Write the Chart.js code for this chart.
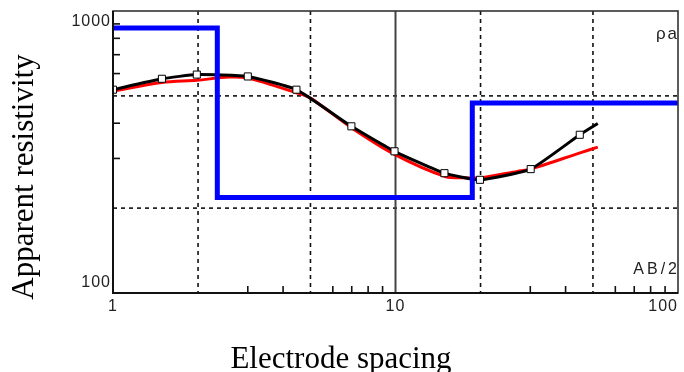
<!DOCTYPE html>
<html>
<head>
<meta charset="utf-8">
<script src="https://cdn.jsdelivr.net/npm/chart.js@4/dist/chart.umd.min.js"></script>
<style>
html, body { margin: 0; padding: 0; background: #fff; }
#wrap { width: 684px; height: 372px; }
</style>
</head>
<body>
<div id="wrap"><canvas id="sounding" width="684" height="372"></canvas></div>
<script>
// field readings: AB/2 and apparent resistivity
var obsSpacing = [1, 1.49, 1.98, 3.0, 4.46, 6.98, 9.92, 14.9, 19.9, 30.1, 44.9];
var obsRho = [526, 575, 595, 586, 526, 390, 318, 266, 252, 275, 364];
// the drawn field curve runs a little past the last reading
var curveEndSpacing = 52;
var curveEndRho = 399;

// computed response of the layer model
var fitSpacing = [1, 1.49, 1.98, 2.57, 3.0, 4.46, 5, 7, 10, 15, 18, 20, 27, 30, 45, 52];
var fitRho = [520, 558, 568, 583, 578, 513, 491, 385, 309, 259, 256, 256, 270, 275, 314, 329];

// layer model: resistivity per layer, depth of each boundary
var layerRho = [870, 218, 472];
var layerDepth = [2.34, 18.7];

// axis furniture
var xLabelValues = [1, 10, 100];
var yLabelValues = [100, 1000];
var xDashed = [2, 5, 20, 50];
var xSolid = [10];
var yDashed = [200, 500];
var xMinor = [3, 4, 6, 7, 8, 9, 30, 40, 60, 70, 80, 90];
var yMinor = [300, 400, 600, 700, 800, 900];

function toPoints(xs, ys) {
    var pts = [];
    for (var i = 0; i < xs.length; i++) pts.push({x: xs[i], y: ys[i]});
    return pts;
}

var fieldPts = toPoints(obsSpacing, obsRho);
fieldPts.push({x: curveEndSpacing, y: curveEndRho});

// step line of the model, from the left edge out to 100
var modelPts = [];
var xStart = 1, xEnd = 100;
for (var i = 0; i < layerRho.length; i++) {
    var a = i === 0 ? xStart : layerDepth[i - 1];
    var b = i < layerDepth.length ? layerDepth[i] : xEnd;
    modelPts.push({x: a, y: layerRho[i]});
    modelPts.push({x: b, y: layerRho[i]});
}

var frame = {
    id: 'frame',
    beforeDatasetsDraw: function (chart) {
        var ctx = chart.ctx, ar = chart.chartArea;
        var sx = chart.scales.x, sy = chart.scales.y;
        ctx.save();
        ctx.strokeStyle = '#111';
        ctx.lineWidth = 1.6;
        ctx.setLineDash([4, 4]);
        xDashed.forEach(function (v) {
            var p = sx.getPixelForValue(v);
            ctx.beginPath(); ctx.moveTo(p, ar.top); ctx.lineTo(p, ar.bottom); ctx.stroke();
        });
        yDashed.forEach(function (v) {
            var p = sy.getPixelForValue(v);
            ctx.beginPath(); ctx.moveTo(ar.left, p); ctx.lineTo(ar.right, p); ctx.stroke();
        });
        ctx.setLineDash([]);
        ctx.strokeStyle = '#444';
        ctx.lineWidth = 2;
        xSolid.forEach(function (v) {
            var p = sx.getPixelForValue(v);
            ctx.beginPath(); ctx.moveTo(p, ar.top); ctx.lineTo(p, ar.bottom); ctx.stroke();
        });
        ctx.strokeStyle = '#111';
        ctx.lineWidth = 1.6;
        xMinor.forEach(function (v) {
            var p = sx.getPixelForValue(v);
            ctx.beginPath(); ctx.moveTo(p, ar.bottom); ctx.lineTo(p, ar.bottom - 7); ctx.stroke();
        });
        yMinor.forEach(function (v) {
            var p = sy.getPixelForValue(v);
            ctx.beginPath(); ctx.moveTo(ar.left, p); ctx.lineTo(ar.left + 7, p); ctx.stroke();
        });
        ctx.restore();
    },
    afterDatasetsDraw: function (chart) {
        var ctx = chart.ctx, ar = chart.chartArea;
        var sx = chart.scales.x, sy = chart.scales.y;
        ctx.save();
        ctx.strokeStyle = '#333';
        ctx.lineWidth = 1.6;
        ctx.strokeRect(ar.left, ar.top, ar.right - ar.left, ar.bottom - ar.top);
        ctx.strokeStyle = '#111';
        ctx.lineWidth = 2;
        ctx.beginPath();
        ctx.moveTo(ar.left, ar.top); ctx.lineTo(ar.left, ar.bottom); ctx.lineTo(ar.right, ar.bottom);
        ctx.stroke();

        ctx.fillStyle = '#222';
        ctx.font = '16px "Liberation Sans", Arial, sans-serif';
        ctx.letterSpacing = '1px';
        ctx.textBaseline = 'middle';
        ctx.textAlign = 'right';
        yLabelValues.forEach(function (v) {
            var p = Math.max(sy.getPixelForValue(v) - 10, ar.top + 11);
            ctx.fillText(String(v), ar.left - 2, p);
        });
        xLabelValues.forEach(function (v) {
            var s = String(v);
            var w = ctx.measureText(s).width;
            var p = Math.min(sx.getPixelForValue(v) + w / 2, ar.right);
            ctx.fillText(s, p, ar.bottom + 14);
        });
        ctx.font = '17px "Liberation Sans", Arial, sans-serif';
        ctx.letterSpacing = '2px';
        ctx.fillText('\u03c1a', ar.right + 1, ar.top + 23);
        ctx.font = '16px "Liberation Sans", Arial, sans-serif';
        ctx.letterSpacing = '3px';
        ctx.fillText('AB/2', ar.right + 2, ar.bottom - 23);
        ctx.letterSpacing = '0px';

        ctx.fillStyle = '#000';
        ctx.font = '31px "Liberation Serif", "Times New Roman", serif';
        ctx.textAlign = 'center';
        ctx.textBaseline = 'alphabetic';
        ctx.fillText('Electrode spacing', 341, 368);
        ctx.translate(33, 177);
        ctx.rotate(-Math.PI / 2);
        ctx.fillText('Apparent resistivity', 0, 0);
        ctx.restore();
    }
};

new Chart(document.getElementById('sounding'), {
    type: 'scatter',
    data: {
        datasets: [{
            label: 'model',
            data: modelPts,
            showLine: true,
            borderColor: '#0000ff',
            borderWidth: 5,
            pointRadius: 0,
            tension: 0
        }, {
            label: 'field',
            data: fieldPts,
            showLine: true,
            borderColor: '#000',
            borderWidth: 3,
            tension: 0.15,
            pointStyle: 'rect',
            pointRadius: function (c) { return c.dataIndex < obsSpacing.length ? 5 : 0; },
            pointBackgroundColor: '#fff',
            pointBorderColor: '#000',
            pointBorderWidth: 1
        }, {
            label: 'fit',
            data: toPoints(fitSpacing, fitRho),
            showLine: true,
            borderColor: '#ff0000',
            borderWidth: 3,
            tension: 0.3,
            pointRadius: 0
        }]
    },
    options: {
        responsive: false,
        animation: false,
        devicePixelRatio: 1,
        layout: {padding: {left: 113, top: 11, right: 2, bottom: 79}},
        plugins: {legend: {display: false}, tooltip: {enabled: false}},
        scales: {
            x: {type: 'logarithmic', min: 1, max: 100, display: false},
            y: {type: 'logarithmic', min: 100, max: 1000, display: false}
        }
    },
    plugins: [frame]
});
</script>
</body>
</html>
